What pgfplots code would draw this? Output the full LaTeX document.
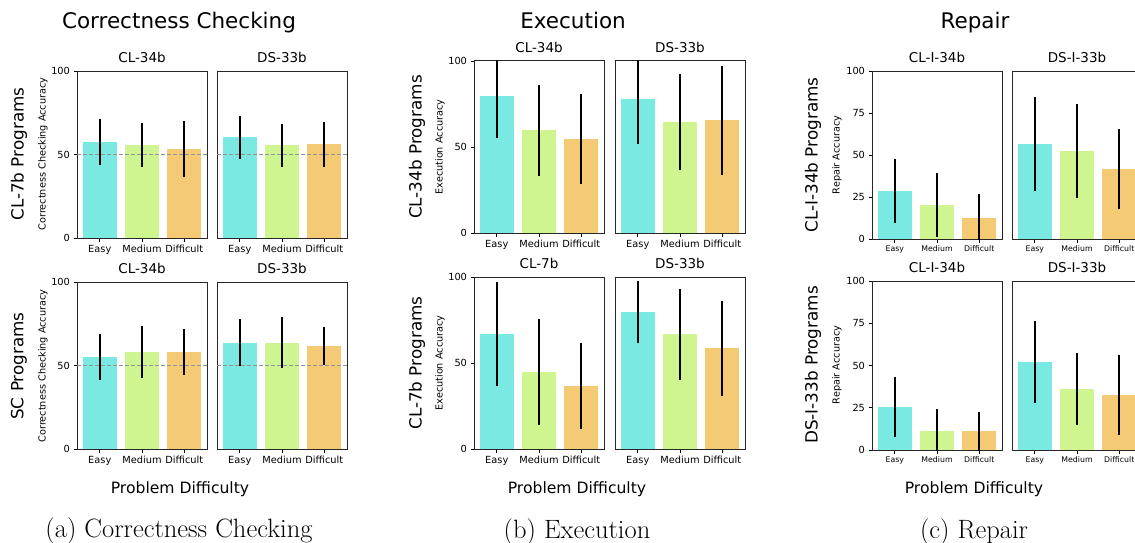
\documentclass[border=0pt]{standalone}
\usepackage{pgfplots}
\pgfplotsset{compat=1.18}
\usepackage{fontspec}
\setsansfont{DejaVu Sans}
\definecolor{cE}{HTML}{7AE9E1}
\definecolor{cM}{HTML}{CEF590}
\definecolor{cD}{HTML}{F4CA74}
\newcommand{\fs}[1]{\fontsize{#1}{#1}\selectfont}
\pgfplotsset{
 panel/.style={scale only axis, width=130pt, ymin=0, ymax=100, xmin=-0.54, xmax=2.54,
  ybar, bar width=0.8, bar shift=0pt, xtick={0,1,2}, xticklabels={Easy,Medium,Difficult},
  tick align=outside, xtick pos=left, ytick pos=left, major tick length=3.5pt,
  tick style={black, line width=0.8pt}, axis line style={black!85, line width=1pt},
  tick label style={font=\sffamily\fs{9.8}}, title style={font=\sffamily\fs{13.5}, yshift=-1pt},
  anchor=north west, /pgf/number format/assume math mode=true,
  error bars/y dir=both, error bars/y explicit, error bars/error mark=none,
  error bars/error bar style={draw=black, line width=1.8pt}},
 noy/.style={ytick=\empty},
 half/.style={sharp plot, no marks, fill=none, draw=gray!85, line width=1pt, dash pattern=on 4pt off 2pt, forget plot, error bars/y dir=none},
}
\begin{document}
\begin{tikzpicture}[font=\sffamily]
% ---------------- (a) Correctness Checking ----------------
\begin{axis}[panel, height=167pt, at={(77pt,-71pt)}, ytick={0,50,100}, title={CL-34b}]
\addplot[fill=cE, draw=none] coordinates {(0,57.3) +- (0,13.8)};
\addplot[fill=cM, draw=none] coordinates {(1,55.5) +- (0,13.1)};
\addplot[fill=cD, draw=none] coordinates {(2,53.1) +- (0,16.7)};
\addplot[half] coordinates {(-0.54,50) (2.54,50)};
\end{axis}
\begin{axis}[panel, noy, height=167pt, at={(217pt,-71pt)}, title={DS-33b}]
\addplot[fill=cE, draw=none] coordinates {(0,60.3) +- (0,12.7)};
\addplot[fill=cM, draw=none] coordinates {(1,55.5) +- (0,12.9)};
\addplot[fill=cD, draw=none] coordinates {(2,56.1) +- (0,13.6)};
\addplot[half] coordinates {(-0.54,50) (2.54,50)};
\end{axis}
\begin{axis}[panel, height=167pt, at={(77pt,-282pt)}, ytick={0,50,100}, title={CL-34b}]
\addplot[fill=cE, draw=none] coordinates {(0,55.2) +- (0,13.9)};
\addplot[fill=cM, draw=none] coordinates {(1,58.2) +- (0,15.5)};
\addplot[fill=cD, draw=none] coordinates {(2,58.2) +- (0,13.8)};
\addplot[half] coordinates {(-0.54,50) (2.54,50)};
\end{axis}
\begin{axis}[panel, noy, height=167pt, at={(217pt,-282pt)}, title={DS-33b}]
\addplot[fill=cE, draw=none] coordinates {(0,63.6) +- (0,14.1)};
\addplot[fill=cM, draw=none] coordinates {(1,63.6) +- (0,15.3)};
\addplot[fill=cD, draw=none] coordinates {(2,61.8) +- (0,11.5)};
\addplot[half] coordinates {(-0.54,50) (2.54,50)};
\end{axis}
\node[anchor=base, font=\sffamily\fs{21.5}] at (179pt,-28.5pt) {Correctness Checking};
\node[rotate=90, font=\sffamily\fs{16.8}] at (19pt,-154pt) {CL-7b Programs};
\node[rotate=90, font=\sffamily\fs{16.8}] at (19pt,-366pt) {SC Programs};
\node[rotate=90, font=\sffamily\fs{9.7}] at (43pt,-154pt) {Correctness Checking Accuracy};
\node[rotate=90, font=\sffamily\fs{9.7}] at (43pt,-366pt) {Correctness Checking Accuracy};
\node[anchor=base, font=\sffamily\fs{15.6}] at (180pt,-493pt) {Problem Difficulty};
\node[anchor=base, font=\rmfamily\fs{26.5}] at (179pt,-537pt) {(a) Correctness Checking};
% ---------------- (b) Execution ----------------
\begin{axis}[panel, height=172pt, at={(474pt,-61pt)}, ytick={0,50,100}, title={CL-34b}]
\addplot[fill=cE, draw=none] coordinates {(0,79.5) +- (0,24.3)};
\addplot[fill=cM, draw=none] coordinates {(1,59.7) +- (0,26.3)};
\addplot[fill=cD, draw=none] coordinates {(2,54.5) +- (0,26.2)};
\end{axis}
\begin{axis}[panel, noy, height=172pt, at={(615pt,-61pt)}, title={DS-33b}]
\addplot[fill=cE, draw=none] coordinates {(0,77.7) +- (0,25.8)};
\addplot[fill=cM, draw=none] coordinates {(1,64.3) +- (0,27.9)};
\addplot[fill=cD, draw=none] coordinates {(2,65.5) +- (0,31.8)};
\end{axis}
\begin{axis}[panel, height=172pt, at={(474pt,-277pt)}, ytick={0,50,100}, title={CL-7b}]
\addplot[fill=cE, draw=none] coordinates {(0,66.7) +- (0,30.2)};
\addplot[fill=cM, draw=none] coordinates {(1,44.7) +- (0,30.8)};
\addplot[fill=cD, draw=none] coordinates {(2,36.6) +- (0,25.2)};
\end{axis}
\begin{axis}[panel, noy, height=172pt, at={(615pt,-277pt)}, title={DS-33b}]
\addplot[fill=cE, draw=none] coordinates {(0,79.5) +- (0,18.1)};
\addplot[fill=cM, draw=none] coordinates {(1,66.7) +- (0,26.3)};
\addplot[fill=cD, draw=none] coordinates {(2,58.6) +- (0,27.5)};
\end{axis}
\node[anchor=base, font=\sffamily\fs{21.5}] at (573pt,-29pt) {Execution};
\node[rotate=90, font=\sffamily\fs{16.8}] at (417pt,-147pt) {CL-34b Programs};
\node[rotate=90, font=\sffamily\fs{16.8}] at (417pt,-363pt) {CL-7b Programs};
\node[rotate=90, font=\sffamily\fs{9.7}] at (440pt,-147pt) {Execution Accuracy};
\node[rotate=90, font=\sffamily\fs{9.7}] at (440pt,-363pt) {Execution Accuracy};
\node[anchor=base, font=\sffamily\fs{15.6}] at (577pt,-493pt) {Problem Difficulty};
\node[anchor=base, font=\rmfamily\fs{26.5}] at (577pt,-538pt) {(b) Execution};
% ---------------- (c) Repair ----------------
\begin{axis}[panel, height=168pt, at={(872pt,-71pt)}, ytick={0,25,50,75,100}, title={CL-I-34b}, xticklabel style={font=\sffamily\fs{7.8}}]
\addplot[fill=cE, draw=none] coordinates {(0,28.7) +- (0,19.0)};
\addplot[fill=cM, draw=none] coordinates {(1,20.2) +- (0,18.8)};
\addplot[fill=cD, draw=none] coordinates {(2,12.7) +- (0,14.0)};
\end{axis}
\begin{axis}[panel, noy, height=168pt, at={(1012pt,-71pt)}, title={DS-I-33b}, xticklabel style={font=\sffamily\fs{7.8}}]
\addplot[fill=cE, draw=none] coordinates {(0,56.8) +- (0,28.0)};
\addplot[fill=cM, draw=none] coordinates {(1,52.3) +- (0,28.1)};
\addplot[fill=cD, draw=none] coordinates {(2,41.6) +- (0,23.6)};
\end{axis}
\begin{axis}[panel, height=169pt, at={(872pt,-281pt)}, ytick={0,25,50,75,100}, title={CL-I-34b}, xticklabel style={font=\sffamily\fs{7.8}}]
\addplot[fill=cE, draw=none] coordinates {(0,25.4) +- (0,18.0)};
\addplot[fill=cM, draw=none] coordinates {(1,11.2) +- (0,13.0)};
\addplot[fill=cD, draw=none] coordinates {(2,11.0) +- (0,11.6)};
\end{axis}
\begin{axis}[panel, noy, height=169pt, at={(1012pt,-281pt)}, title={DS-I-33b}, xticklabel style={font=\sffamily\fs{7.8}}]
\addplot[fill=cE, draw=none] coordinates {(0,52.2) +- (0,24.3)};
\addplot[fill=cM, draw=none] coordinates {(1,36.0) +- (0,21.5)};
\addplot[fill=cD, draw=none] coordinates {(2,32.5) +- (0,23.7)};
\end{axis}
\node[anchor=base, font=\sffamily\fs{21.5}] at (975pt,-28.5pt) {Repair};
\node[rotate=90, font=\sffamily\fs{16.8}] at (813pt,-155pt) {CL-I-34b Programs};
\node[rotate=90, font=\sffamily\fs{16.8}] at (813pt,-365pt) {DS-I-33b Programs};
\node[rotate=90, font=\sffamily\fs{9.7}] at (837pt,-155pt) {Repair Accuracy};
\node[rotate=90, font=\sffamily\fs{9.7}] at (837pt,-365pt) {Repair Accuracy};
\node[anchor=base, font=\sffamily\fs{15.6}] at (974pt,-493pt) {Problem Difficulty};
\node[anchor=base, font=\rmfamily\fs{26.5}] at (974pt,-538pt) {(c) Repair};
\pgfresetboundingbox
\path[use as bounding box] (0pt,0pt) rectangle (1135pt,-543pt);
\end{tikzpicture}
\end{document}
